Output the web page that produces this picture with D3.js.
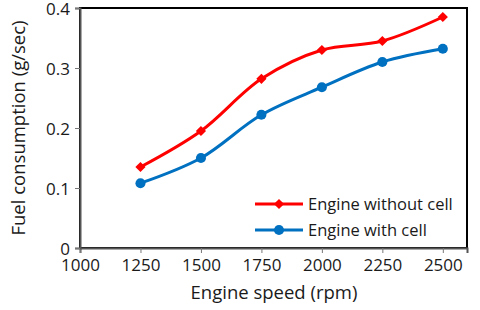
<!DOCTYPE html>
<html>
<head>
<meta charset="utf-8">
<script src="https://d3js.org/d3.v7.min.js"></script>
<style>
  body { margin:0; background:#fff; }
  text { font-family: "Open Sans", sans-serif; fill:#1a1a1a; }
</style>
</head>
<body>
<script>
var speeds = [1250, 1500, 1750, 2000, 2250, 2500];
var withoutCell = [0.135, 0.195, 0.282, 0.330, 0.345, 0.385];
var withCell = [0.108, 0.150, 0.222, 0.268, 0.310, 0.332];
var xTicks = [1000, 1250, 1500, 1750, 2000, 2250, 2500];
var yTicks = [0, 0.1, 0.2, 0.3, 0.4];
var seriesNames = ["Engine without cell", "Engine with cell"];

var W = 480, H = 310;
var plotL = 80, plotR = 467, plotT = 8, plotB = 248;

var svg = d3.select("body").append("svg").attr("width", W).attr("height", H);

var x = d3.scaleLinear().domain([1000, 2600]).range([plotL, plotR]);
var y = d3.scaleLinear().domain([0, 0.4]).range([plotB, plotT]);

// plot frame
svg.append("rect").attr("x", plotL).attr("y", plotT)
  .attr("width", plotR - plotL).attr("height", plotB - plotT)
  .attr("fill", "none").attr("stroke", "#000").attr("stroke-width", 2);

// axes
var xAxis = svg.append("g").attr("transform", "translate(0," + plotB + ")")
  .call(d3.axisBottom(x).tickValues(xTicks).tickSize(5).tickPadding(6).tickFormat(d3.format("d")));
var yAxis = svg.append("g").attr("transform", "translate(" + plotL + ",0)")
  .call(d3.axisLeft(y).tickValues(yTicks).tickSize(5).tickPadding(5).tickFormat(function (d) { return d === 0 ? "0" : d3.format(".1f")(d); }));
[xAxis, yAxis].forEach(function (g) {
  g.select(".domain").attr("stroke", "#555").attr("stroke-width", 2);
  g.selectAll(".tick line").attr("stroke", "#777").attr("stroke-width", 1);
  g.selectAll(".tick text").style("font-size", "17px").attr("fill", "#1a1a1a");
});
yAxis.selectAll(".tick text").attr("dy", "0.36em");

// axis titles
svg.append("text").attr("x", 274).attr("y", 299).attr("text-anchor", "middle")
  .style("font-size", "18.5px").text("Engine speed (rpm)");
svg.append("text").attr("transform", "translate(25,128) rotate(-90)").attr("text-anchor", "middle")
  .style("font-size", "18.5px").text("Fuel consumption (g/sec)");

var line = d3.line().x(function (d) { return x(d[0]); }).y(function (d) { return y(d[1]); })
  .curve(d3.curveCatmullRom.alpha(0.5));

var series = [
  { name: seriesNames[0], vals: withoutCell, color: "#ff0000", diamond: true },
  { name: seriesNames[1], vals: withCell, color: "#0070c0", diamond: false }
];

function marker(sel, s) {
  sel.attr("d", d3.symbol().type(s.diamond ? d3.symbolSquare : d3.symbolCircle).size(s.diamond ? 52 : 80))
    .attr("fill", s.color);
}

series.forEach(function (s) {
  var pts = speeds.map(function (v, i) { return [v, s.vals[i]]; });
  svg.append("path").datum(pts).attr("d", line).attr("fill", "none")
    .attr("stroke", s.color).attr("stroke-width", 3);
  svg.selectAll(null).data(pts).enter().append("path")
    .attr("transform", function (d) { return "translate(" + x(d[0]) + "," + y(d[1]) + ")" + (s.diamond ? " rotate(45)" : ""); })
    .call(marker, s);
});

// legend
var lg = svg.append("g");
series.forEach(function (s, i) {
  var ly = 204 + i * 26;
  lg.append("line").attr("x1", 255).attr("x2", 303).attr("y1", ly).attr("y2", ly)
    .attr("stroke", s.color).attr("stroke-width", 3);
  lg.append("path").attr("transform", "translate(279," + ly + ")" + (s.diamond ? " rotate(45)" : ""))
    .call(marker, s);
  lg.append("text").attr("x", 308).attr("y", ly).attr("dy", "0.36em")
    .style("font-size", "16.5px").text(s.name);
});
</script>
</body>
</html>
